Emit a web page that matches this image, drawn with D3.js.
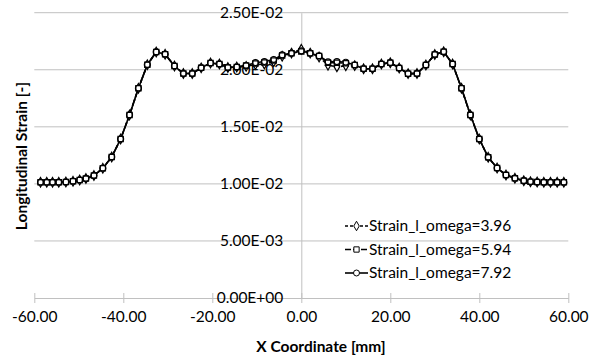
<!DOCTYPE html>
<html>
<head>
<meta charset="utf-8">
<script src="https://cdn.jsdelivr.net/npm/d3@7"></script>
<style>
  body { margin: 0; background: #fff; }
  text { font-family: Lato, "Open Sans", sans-serif; fill: #000; }
</style>
</head>
<body>
<div class="chart"></div>
<script>
// x coordinates [mm]
const xVals = [-58.6, -57.2, -55.9, -54.5, -52.9, -51.3, -49.8, -48.4, -46.6, -44.6,
  -42.6, -40.6, -38.6, -36.6, -34.6, -32.6, -30.6, -28.5, -26.5, -24.5,
  -22.5, -20.4, -18.4, -16.5, -14.5, -12.4, -10.3, -8.3, -6.2, -4.3, -2.2,
  0, 2, 4, 6, 8, 10, 12, 14, 16, 18, 20, 22, 24, 26, 28, 30, 32, 34, 36, 38,
  40, 42, 44, 46, 48, 50, 51.5, 53, 54.5, 56, 57.5, 59];

const strain396 = [0.01014, 0.01014, 0.01014, 0.01014, 0.01016, 0.01023, 0.01034, 0.01047, 0.01073, 0.01137,
  0.01236, 0.01393, 0.01604, 0.01838, 0.02044, 0.02156, 0.02136, 0.02033, 0.01967, 0.01967,
  0.02017, 0.02059, 0.02050, 0.02020, 0.02024, 0.02030, 0.02045, 0.02050, 0.02070, 0.02118, 0.02146,
  0.02180, 0.02146, 0.02112, 0.02040, 0.02025, 0.02035, 0.02036, 0.02009, 0.02009, 0.02050,
  0.02062, 0.02015, 0.01966, 0.01967, 0.02042, 0.02134, 0.02158, 0.02050, 0.01838, 0.01604,
  0.01393, 0.01233, 0.01139, 0.01078, 0.01049, 0.01028, 0.01019, 0.01016, 0.01014, 0.01014, 0.01014, 0.01014];

const strain594 = [0.01014, 0.01014, 0.01014, 0.01014, 0.01016, 0.01023, 0.01034, 0.01047, 0.01073, 0.01137,
  0.01236, 0.01393, 0.01604, 0.01838, 0.02044, 0.02156, 0.02136, 0.02033, 0.01967, 0.01967,
  0.02017, 0.02059, 0.02050, 0.02020, 0.02024, 0.02037, 0.02055, 0.02064, 0.02081, 0.02125, 0.02144,
  0.02160, 0.02144, 0.02121, 0.02062, 0.02062, 0.02057, 0.02042, 0.02009, 0.02009, 0.02050,
  0.02062, 0.02015, 0.01966, 0.01967, 0.02042, 0.02134, 0.02158, 0.02050, 0.01838, 0.01604,
  0.01393, 0.01233, 0.01139, 0.01078, 0.01049, 0.01028, 0.01019, 0.01016, 0.01014, 0.01014, 0.01014, 0.01014];

const strain792 = [0.01014, 0.01014, 0.01014, 0.01014, 0.01016, 0.01023, 0.01034, 0.01047, 0.01073, 0.01137,
  0.01236, 0.01393, 0.01604, 0.01838, 0.02044, 0.02156, 0.02136, 0.02033, 0.01967, 0.01967,
  0.02017, 0.02059, 0.02050, 0.02020, 0.02024, 0.02037, 0.02062, 0.02072, 0.02090, 0.02130, 0.02144,
  0.02165, 0.02144, 0.02121, 0.02070, 0.02072, 0.02066, 0.02042, 0.02009, 0.02009, 0.02050,
  0.02062, 0.02015, 0.01966, 0.01967, 0.02042, 0.02134, 0.02158, 0.02050, 0.01838, 0.01604,
  0.01393, 0.01233, 0.01139, 0.01078, 0.01049, 0.01028, 0.01019, 0.01016, 0.01014, 0.01014, 0.01014, 0.01014];

const seriesNames = ["Strain_l_omega=3.96", "Strain_l_omega=5.94", "Strain_l_omega=7.92"];
const xTicks = [-60, -40, -20, 0, 20, 40, 60];
const yTicks = [0, 0.005, 0.01, 0.015, 0.02, 0.025];
const yTickLabels = ["0.00E+00", "5.00E-03", "1.00E-02", "1.50E-02", "2.00E-02", "2.50E-02"];

const totalWidth = 590, totalHeight = 360;
const gridColor = "#c0c0c0";
const fontSize = "15.5px";

const svg = d3.select(".chart").append("svg")
  .attr("width", totalWidth)
  .attr("height", totalHeight);

//scales
const xScale = d3.scaleLinear().domain([-60, 60]).range([34.3, 568.3]);
const yScale = d3.scaleLinear().domain([0, 0.025]).range([298, 12.7]);

//horizontal gridlines
svg.append("g")
  .selectAll("line")
  .data(yTicks.slice(1))
  .enter()
  .append("line")
  .attr("x1", xScale(-60))
  .attr("x2", xScale(60))
  .attr("y1", (d) => yScale(d))
  .attr("y2", (d) => yScale(d))
  .attr("stroke", gridColor)
  .attr("stroke-width", 1);

//x axis (at y = 0) with crossing ticks
const fmt = d3.format(".2f");
const xAxis = d3.axisBottom(xScale)
  .tickValues(xTicks)
  .tickFormat((d) => fmt(d).replace("\u2212", "-"))
  .tickSizeInner(5)
  .tickSizeOuter(0);

const xAxisG = svg.append("g")
  .attr("transform", `translate(0, ${yScale(0)})`)
  .call(xAxis);
xAxisG.select(".domain").attr("stroke", gridColor);
xAxisG.selectAll(".tick line").attr("stroke", gridColor).attr("y1", -5);
xAxisG.selectAll(".tick text")
  .attr("y", 19)
  .attr("dy", "0.35em")
  .style("font-size", fontSize)
  .style("font-family", "Lato, sans-serif");

//y axis at x = 0
const yAxis = d3.axisLeft(yScale)
  .tickValues(yTicks)
  .tickFormat((d, i) => yTickLabels[i])
  .tickSize(0);

const yAxisG = svg.append("g")
  .attr("transform", `translate(${xScale(0)}, 0)`)
  .call(yAxis);
yAxisG.select(".domain").attr("stroke", gridColor);
yAxisG.selectAll(".tick text")
  .attr("x", -18)
  .style("font-size", fontSize)
  .style("font-family", "Lato, sans-serif");

//axis titles
svg.append("text")
  .attr("x", 321)
  .attr("y", 347)
  .attr("dy", "0.35em")
  .attr("text-anchor", "middle")
  .style("font-size", fontSize)
  .style("font-weight", "bold")
  .text("X Coordinate [mm]");

svg.append("text")
  .attr("transform", "translate(22, 156) rotate(-90)")
  .attr("dy", "0.35em")
  .attr("text-anchor", "middle")
  .style("font-size", fontSize)
  .style("font-weight", "bold")
  .text("Longitudinal Strain [-]");

//series
const series = [
  { name: seriesNames[0], values: strain396, dash: "3,2", symbol: d3.symbolDiamond, size: 26 },
  { name: seriesNames[1], values: strain594, dash: "6,2", symbol: d3.symbolSquare, size: 28 },
  { name: seriesNames[2], values: strain792, dash: null, symbol: d3.symbolCircle, size: 28 }
];

const line = d3.line()
  .x((d) => xScale(d[0]))
  .y((d) => yScale(d[1]));

//draw lines first, then markers (diamonds, circles, squares on top)
series.forEach((s) => {
  const pts = xVals.map((x, i) => [x, s.values[i]]);
  svg.append("path")
    .datum(pts)
    .attr("d", line)
    .attr("fill", "none")
    .attr("stroke", "#000")
    .attr("stroke-width", 1.6)
    .attr("stroke-dasharray", s.dash);
});

[0, 2, 1].forEach((k) => {
  const s = series[k];
  const pts = xVals.map((x, i) => [x, s.values[i]]);
  svg.append("g")
    .selectAll("path")
    .data(pts)
    .enter()
    .append("path")
    .attr("transform", (d) => `translate(${xScale(d[0])}, ${yScale(d[1])})`)
    .attr("d", d3.symbol().type(s.symbol).size(s.size))
    .attr("fill", k === 1 ? "none" : "#fff")
    .attr("stroke", "#000")
    .attr("stroke-width", 1.2);
});

//legend
const legend = svg.append("g").attr("transform", "translate(345, 226)");

const legendItem = legend.selectAll("g")
  .data(series)
  .enter()
  .append("g")
  .attr("transform", (d, i) => `translate(0, ${i * 23.5})`);

legendItem.append("line")
  .attr("x1", 0)
  .attr("x2", 23)
  .attr("y1", 0)
  .attr("y2", 0)
  .attr("stroke", "#000")
  .attr("stroke-width", 1.6)
  .attr("stroke-dasharray", (d) => d.dash);

legendItem.append("path")
  .attr("transform", "translate(11.5, 0)")
  .attr("d", (d) => d3.symbol().type(d.symbol).size(d.size)())
  .attr("fill", "#fff")
  .attr("stroke", "#000")
  .attr("stroke-width", 1);

legendItem.append("text")
  .attr("x", 24)
  .attr("y", 0)
  .attr("dy", "0.35em")
  .style("font-size", fontSize)
  .text((d) => d.name);
</script>
</body>
</html>
